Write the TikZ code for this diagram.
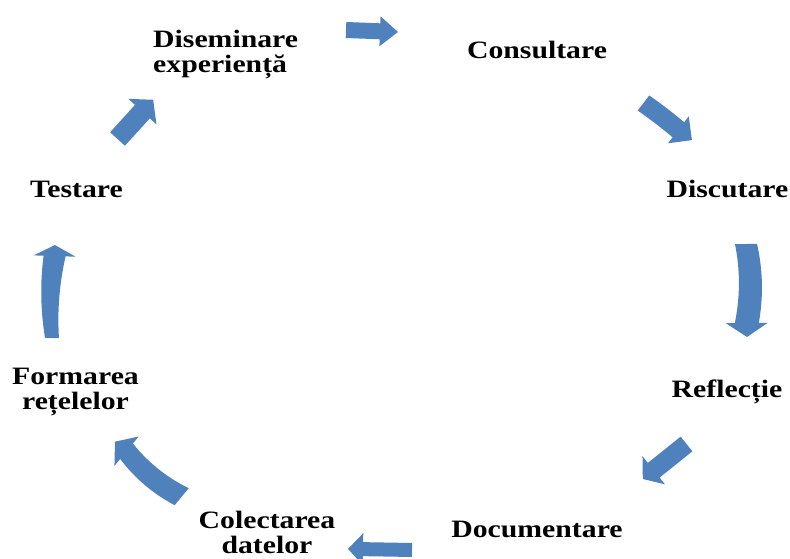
\documentclass[tikz,border=0pt]{standalone}
\usepackage{fontspec}
\newfontfamily\lblfont{Liberation Serif}[FakeStretch=1.19]
\definecolor{cycleblue}{RGB}{79,129,189}
\begin{document}
\begin{tikzpicture}[x=1pt,y=1pt,
  lbl/.style={font=\lblfont\bfseries\fontsize{25}{25}\selectfont, inner sep=0pt, text=black},
  arrowbody/.style={fill=cycleblue, draw=none},
  % block arrow from (0,0) along +x:
  % length / tail half-width / neck half-width / head half-width / head length / bow
  pics/cyclearrow/.style args={#1/#2/#3/#4/#5/#6}{code={
    \path[arrowbody]
      (0,-#2)
        .. controls ({(#1-#5)/3},{-(2*#2+#3)/3+4*#6/3}) and ({2*(#1-#5)/3},{-(#2+2*#3)/3+4*#6/3})
        .. ({#1-#5},-#3)
      -- ({#1-#5},-#4) -- (#1,0) -- ({#1-#5},#4) -- ({#1-#5},#3)
        .. controls ({2*(#1-#5)/3},{(#2+2*#3)/3+4*#6/3}) and ({(#1-#5)/3},{(2*#2+#3)/3+4*#6/3})
        .. (0,#2)
      -- cycle;
  }}]
\useasboundingbox (0,0) rectangle (790,559);

% stage labels
\node[lbl, anchor=north west, align=left] (dis) at (153,529) {Diseminare\\experiență};
\node[lbl, anchor=base] (con) at (537,500) {Consultare};
\node[lbl, anchor=base] (dsc) at (727.5,361) {Discutare};
\node[lbl, anchor=base] (ref) at (727,161) {Reflecție};
\node[lbl, anchor=base] (doc) at (537,21) {Documentare};
\node[lbl, anchor=north, align=center] (col) at (267,48) {Colectarea\\datelor};
\node[lbl, anchor=north, align=center] (for) at (75.5,191) {Formarea\\rețelelor};
\node[lbl, anchor=base] (tes) at (76.5,361) {Testare};

% arrows around the cycle
\pic[rotate=-2.2]  at (346,529)   {cyclearrow=52/8/8/15/18/0};
\pic[rotate=-37.5] at (643.5,456) {cyclearrow=61/9.5/9.5/17/17/0.5};
\pic[rotate=-89.4] at (746,315)   {cyclearrow=93/11/12/21/14/4};
\pic[rotate=218.7] at (686.5,115) {cyclearrow=56/9.4/9.4/18/14/0};
\pic[rotate=179]   at (412,9)     {cyclearrow=64/7/7/16/15/0};
\pic[rotate=140.5] at (181.7,62.3){cyclearrow=86.5/11/10/19/15/4};
\pic[rotate=88.2]  at (52,221)    {cyclearrow=93/7/11/21/11/3};
\pic[rotate=47.7]  at (117.5,420) {cyclearrow=53/10/10/19/16/0};
\end{tikzpicture}
\end{document}
